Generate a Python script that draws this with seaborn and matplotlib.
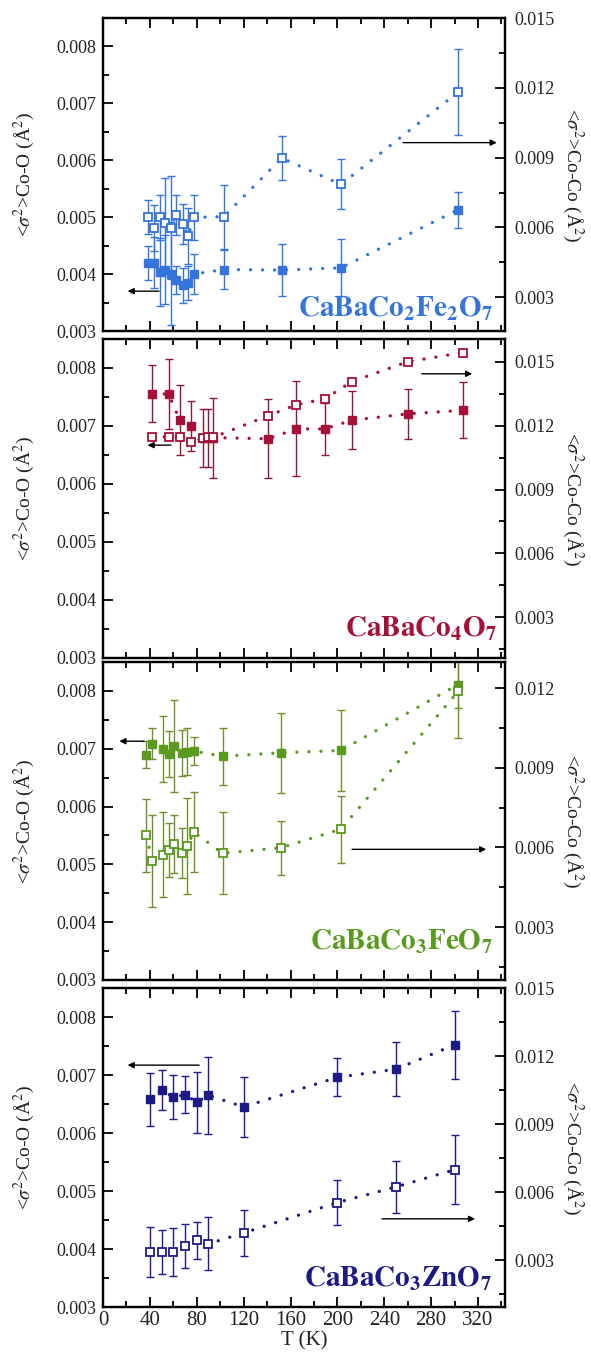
import numpy as np
import pandas as pd
import matplotlib
matplotlib.use('Agg')
import matplotlib.pyplot as plt
import seaborn as sns
from matplotlib.ticker import MultipleLocator, FormatStrFormatter

sns.set_theme(style='ticks')
plt.rcParams['font.family'] = ['Liberation Serif', 'DejaVu Serif']
plt.rcParams['mathtext.fontset'] = 'stix'

# ---------------- data ----------------
# Panel 1: CaBaCo2Fe2O7
T1 = [38, 43.5, 48.5, 53, 58, 62, 68, 72.5, 77.5, 103, 152.5, 203, 303]
coo1 = [0.0042, 0.0042, 0.00404, 0.00408, 0.00401, 0.0039, 0.0038, 0.00385, 0.0040, 0.00408, 0.00407, 0.00411, 0.00513]
coo1_err = [0.0003, 0.00045, 0.0006, 0.0006, 0.0009, 0.00025, 0.0003, 0.0003, 0.00035, 0.00034, 0.00045, 0.0005, 0.00032]
coco1 = [0.00643, 0.00597, 0.00643, 0.00617, 0.00599, 0.00653, 0.00614, 0.00563, 0.00643, 0.00646, 0.00898, 0.00785, 0.01182]
coco1_err = [0.00073, 0.00098, 0.00098, 0.00196, 0.0022, 0.00086, 0.00086, 0.00122, 0.00098, 0.00137, 0.00095, 0.00108, 0.00184]

# Panel 2: CaBaCo4O7
T2 = [42, 56, 65.5, 75, 85, 89.5, 94, 141, 165, 189, 212.5, 260, 307]
coo2 = [0.00756, 0.00755, 0.0071, 0.0070, 0.0068, 0.0068, 0.0068, 0.00678, 0.00695, 0.00695, 0.0071, 0.00721, 0.00727]
coo2_err = [0.00049, 0.0006, 0.0006, 0.00043, 0.0005, 0.0005, 0.00069, 0.00068, 0.00082, 0.00045, 0.0005, 0.00043, 0.00048]
coco2 = [0.01146, 0.01149, 0.01146, 0.01124, 0.01141, 0.01146, 0.01146, 0.01247, 0.01299, 0.01326, 0.01408, 0.01501, 0.01544]
coco2_err = None

# Panel 3: CaBaCo3FeO7
T3 = [37, 42, 51, 56, 61, 67, 72, 77.5, 102, 152, 203, 303]
coo3 = [0.0069, 0.00709, 0.00699, 0.00691, 0.00705, 0.00692, 0.00695, 0.00696, 0.00687, 0.00693, 0.00697, 0.00811]
coo3_err = [0.00024, 0.00027, 0.00057, 0.0004, 0.0008, 0.0004, 0.0004, 0.00025, 0.00049, 0.00069, 0.0007, 0.0004]
coco3 = [0.00645, 0.00549, 0.00573, 0.0059, 0.00614, 0.00578, 0.00606, 0.00658, 0.00578, 0.00599, 0.00669, 0.01187]
coco3_err = [0.00137, 0.00174, 0.00159, 0.00102, 0.00109, 0.00094, 0.00181, 0.00152, 0.00155, 0.00102, 0.00126, 0.00174]

# Panel 4: CaBaCo3ZnO7
T4 = [40, 50, 60, 70, 80, 90, 120, 200, 250, 300]
coo4 = [0.00658, 0.00674, 0.00662, 0.00666, 0.00653, 0.00665, 0.00645, 0.00696, 0.0071, 0.00752]
coo4_err = [0.00046, 0.00034, 0.00038, 0.00032, 0.00053, 0.00066, 0.00052, 0.00033, 0.00047, 0.00059]
coco4 = [0.00336, 0.00336, 0.00334, 0.00362, 0.00387, 0.00372, 0.0042, 0.00554, 0.00623, 0.00699]
coco4_err = [0.00109, 0.00099, 0.00106, 0.00096, 0.00081, 0.00117, 0.00101, 0.00099, 0.00114, 0.00152]

names = [r'$\mathbf{CaBaCo_{2}Fe_{2}O_{7}}$', r'$\mathbf{CaBaCo_{4}O_{7}}$',
         r'$\mathbf{CaBaCo_{3}FeO_{7}}$', r'$\mathbf{CaBaCo_{3}ZnO_{7}}$']
colors = ['#3474dc', '#a50f38', '#5a9a1e', '#1c1a86']
ecolors = ['#3474dc', '#8c1a33', '#6e8f2a', '#1c1a86']

x_ticks = [0, 40, 80, 120, 160, 200, 240, 280, 320]

# ---------------- layout ----------------
W, H = 591, 1361
fig = plt.figure(figsize=(W / 100, H / 100), dpi=100)
left_px, right_px = 103, 505
boxes_px = [(18, 331), (339, 658), (662, 980), (988, 1307)]
right_lims = [(0.00154, 0.01501), (0.00108, 0.01608), (0.00101, 0.01298), (0.00093, 0.01501)]
label_pos = [(0.970, 0.046), (0.980, 0.066), (0.970, 0.094), (0.968, 0.063)]
# arrows: (tail T, tip T, y on left axis)
arrows = [
    [(47.7, 21, 0.0037), (256, 336, 0.00631)],
    [(58, 38, 0.00667), (272, 315, 0.0079)],
    [(35, 14, 0.00713), (212.5, 327, 0.00526)],
    [(82, 21, 0.00717), (238, 317.5, 0.00452)],
]

data = [
    (T1, coo1, coo1_err, coco1, coco1_err),
    (T2, coo2, coo2_err, coco2, coco2_err),
    (T3, coo3, coo3_err, coco3, coco3_err),
    (T4, coo4, coo4_err, coco4, coco4_err),
]

dot_ls = (0, (0.01, 3.6))
tick_col = '#222222'

for i, (T, coo, cooe, coco, cocoe) in enumerate(data):
    top, bot = boxes_px[i]
    ax = fig.add_axes([left_px / W, 1 - bot / H, (right_px - left_px) / W, (bot - top) / H])
    ax2 = ax.twinx()
    c = colors[i]
    ec = ecolors[i]

    df1 = pd.DataFrame({'T': T, 'v': coo})
    df2 = pd.DataFrame({'T': T, 'v': coco})

    ax.errorbar(T, coo, yerr=cooe, fmt='none', ecolor=ec, elinewidth=1.0,
                capsize=3, capthick=1.0, zorder=2)
    sns.lineplot(data=df1, x='T', y='v', ax=ax, color=c, linestyle=dot_ls, linewidth=2.4,
                 dash_capstyle='round', marker='s', markersize=5.5, markerfacecolor=c,
                 markeredgecolor=c, markeredgewidth=1.0, estimator=None, sort=False, zorder=3)

    if cocoe is not None:
        ax2.errorbar(T, coco, yerr=cocoe, fmt='none', ecolor=ec, elinewidth=1.0,
                     capsize=3, capthick=1.0, zorder=2)
    sns.lineplot(data=df2, x='T', y='v', ax=ax2, color=c, linestyle=dot_ls, linewidth=2.4,
                 dash_capstyle='round', marker='s', markersize=5.2, markerfacecolor='white',
                 markeredgecolor=c, markeredgewidth=1.3, estimator=None, sort=False, zorder=3)

    ax.set_xlim(0, 343)
    ax.set_ylim(0.003, 0.0085)
    ax2.set_ylim(*right_lims[i])

    ax.xaxis.set_major_locator(plt.FixedLocator(x_ticks))
    ax.xaxis.set_minor_locator(MultipleLocator(20))
    ax.yaxis.set_major_locator(MultipleLocator(0.001))
    ax.yaxis.set_minor_locator(MultipleLocator(0.0005))
    ax.yaxis.set_major_formatter(FormatStrFormatter('%.3f'))
    ax2.yaxis.set_major_locator(MultipleLocator(0.003))
    ax2.yaxis.set_minor_locator(MultipleLocator(0.0015))
    ax2.yaxis.set_major_formatter(FormatStrFormatter('%.3f'))

    ax.tick_params(axis='both', which='both', direction='in', top=True, right=False,
                   colors='black', labelcolor=tick_col, width=1.3)
    ax.tick_params(axis='both', which='major', length=7)
    ax.tick_params(axis='both', which='minor', length=4)
    ax.tick_params(axis='y', labelsize=13, pad=5)
    ax.tick_params(axis='x', labelsize=15, pad=3)
    ax2.tick_params(axis='y', which='both', direction='in', left=False, right=True,
                    colors='black', labelcolor=tick_col, width=1.3, labelsize=13, pad=7)
    ax2.tick_params(axis='y', which='major', length=7)
    ax2.tick_params(axis='y', which='minor', length=4)

    for a in (ax, ax2):
        for s in a.spines.values():
            s.set_linewidth(1.6)
            s.set_color('black')

    ax.set_ylabel(r'<$\sigma^{2}$>Co-O (Å$^{2}$)', fontsize=14, color=tick_col)
    ax.yaxis.set_label_coords(-0.165, 0.5)
    ax2.set_ylabel(r'<$\sigma^{2}$>Co-Co (Å$^{2}$)', fontsize=14, color=tick_col,
                   rotation=270, va='center')
    ax2.yaxis.set_label_coords(1.167, 0.5)

    if i < 3:
        ax.tick_params(axis='x', labelbottom=False)
        ax.set_xlabel('')
    else:
        ax.set_xlabel('T (K)', fontsize=15, color=tick_col, labelpad=1)

    lx, ly = label_pos[i]
    ax2.text(lx, ly, names[i], transform=ax.transAxes, ha='right', va='baseline',
             fontsize=21, color=c, zorder=5)

    for (t0, t1, yv) in arrows[i]:
        ax.annotate('', xy=(t1, yv), xytext=(t0, yv), xycoords='data',
                    arrowprops=dict(arrowstyle='-|>', color='black', lw=1.0,
                                    mutation_scale=9, shrinkA=0, shrinkB=0), zorder=6)

fig.savefig('out.png', dpi=100)
